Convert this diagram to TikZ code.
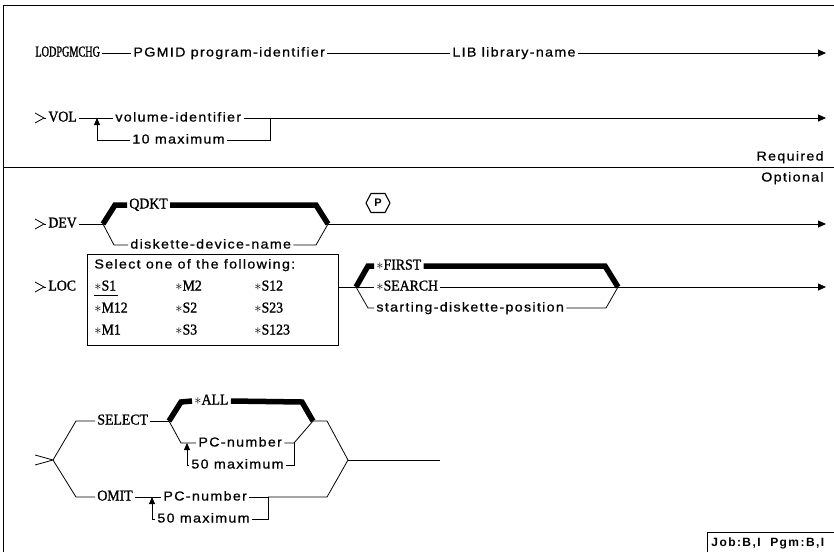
\documentclass[tikz,border=0pt]{standalone}
\usepackage{fontspec}
\setmainfont{Liberation Serif}
\newfontfamily\kwfont[FakeStretch=0.92,FakeBold=1.2]{Liberation Serif}
\newfontfamily\lodfont[FakeStretch=0.68,FakeBold=1.2]{Liberation Serif}
\newfontfamily\prfont[LetterSpace=10,FakeStretch=1.1,FakeBold=0.8]{Liberation Sans}
\newfontfamily\bsfont[LetterSpace=12]{Liberation Sans}
\usetikzlibrary{arrows.meta}
\begin{document}
\begin{tikzpicture}[x=1pt,y=-1pt,line width=0.8pt,
  kw/.style={font=\kwfont\fontsize{15}{17}\selectfont, anchor=west, inner sep=2pt, text height=10pt, text depth=3pt},
  prm/.style={font=\prfont\fontsize{13}{15}\selectfont, anchor=west, inner sep=2pt, text height=10pt, text depth=3pt},
  heavy/.style={line width=5.5pt, line join=miter},
  arr/.style={-{Triangle[length=8pt,width=7pt]}},
  uparr/.style={-{Triangle[length=7pt,width=6pt]}}]
\useasboundingbox (0,0) rectangle (834,552);
% frame
\draw (834,5) -- (3,5) -- (3,552);
\draw (3,167) -- (834,167);
\node[prm,anchor=east] (req) at (826,157) {Required};
\node[prm,anchor=east] (opt) at (826,178) {Optional};

% ---- row 1
\node[kw,font=\lodfont\fontsize{15}{17}\selectfont] (lod) at (33,53) {LODPGMCHG};
\node[prm] (pgm) at (131,53) {PGMID program-identifier};
\node[prm] (lib) at (450,53) {LIB library-name};
\coordinate (e1) at (826,53);
\draw (lod) -- (pgm);
\draw (pgm) -- (lib);
\draw[arr] (lib) -- (e1);

% ---- row 2 VOL
\coordinate (sv) at (44,118);
\draw (35,113) -- (sv) -- (35,123);
\node[kw] (vol) at (46,118) {VOL};
\draw (sv) -- (vol);
\coordinate (va) at (97,118);
\coordinate (vb) at (97,140);
\node[prm] (vid) at (113,118) {volume-identifier};
\node[prm] (vmax) at (130,140) {10 maximum};
\coordinate (vc) at (270,118);
\coordinate (vd) at (270,140);
\coordinate (e2) at (826,118);
\draw (vol) -- (vid);
\draw[uparr] (vb) -- (va);
\draw (vb) -- (vmax);
\draw (vmax) -- (vd) -- (vc);
\draw (vid) -- (vc);
\draw[arr] (vc) -- (e2);

% ---- DEV
\coordinate (sd) at (44,224);
\draw (35,219) -- (sd) -- (35,229);
\node[kw] (dev) at (46,224) {DEV};
\draw (sd) -- (dev);
\coordinate (d0) at (103,224);
\coordinate (d1) at (328,224);
\node[kw] (qdkt) at (127,205) {QDKT};
\node[prm] (ddn) at (128,245) {diskette-device-name};
\draw (dev) -- (d0);
\draw[heavy] (d0) -- (115,205) -- (qdkt.west);
\draw[heavy] (qdkt.east) -- (316,205) -- (d1);
\draw (d0) -- (114,245) -- (ddn.west);
\draw (ddn.east) -- (316,245) -- (d1);
\coordinate (e3) at (826,224);
\draw[arr] (d1) -- (e3);
\node[font=\bsfont\bfseries\fontsize{11}{12}\selectfont, inner sep=0pt] (p) at (378,203) {P};
\draw[line width=1.1pt] ([xshift=-12pt]p.center) -- ++(5,-9.5) -- ++(14,0) -- ++(5,9.5) -- ++(-5,9.5) -- ++(-14,0) -- cycle;

% ---- LOC
\coordinate (sl) at (44,287);
\draw (35,282) -- (sl) -- (35,292);
\node[kw] (loc) at (46,287) {LOC};
\draw (sl) -- (loc);
\node[draw, minimum width=251pt, minimum height=91pt, inner sep=0pt] (selbox) at (212.5,299.5) {};
\node[prm] (selt) at (92,265) {Select one of the following:};
\node[kw] (bS1) at (92,287) {$\ast$S1};
\node[kw] (bM2) at (173,287) {$\ast$M2};
\node[kw] (bS12) at (252,287) {$\ast$S12};
\node[kw] (bM12) at (92,309) {$\ast$M12};
\node[kw] (bS2) at (173,309) {$\ast$S2};
\node[kw] (bS23) at (252,309) {$\ast$S23};
\node[kw] (bM1) at (92,331) {$\ast$M1};
\node[kw] (bS3) at (173,331) {$\ast$S3};
\node[kw] (bS123) at (252,331) {$\ast$S123};
\draw ([xshift=2pt,yshift=1pt]bS1.south west) -- ([xshift=-1pt,yshift=1pt]bS1.south east);
\coordinate (l0) at (356,287);
\coordinate (l1) at (618,287);
\draw (selbox.east |- l0) -- (l0);
\node[kw] (first) at (374,266) {$\ast$FIRST};
\node[kw] (search) at (374,287) {$\ast$SEARCH};
\node[prm] (sdp) at (374,308) {starting-diskette-position};
\draw[heavy] (l0) -- (368,266) -- (first.west);
\draw[heavy] (first.east) -- (605,266) -- (l1);
\draw (l0) -- (search.west);
\draw (search.east) -- (l1);
\draw (l0) -- (368,308) -- (sdp.west);
\draw (sdp.east) -- (606,308) -- (l1);
\coordinate (e4) at (826,287);
\draw[arr] (l1) -- (e4);

% ---- SELECT / OMIT
\coordinate (f0) at (53,460);
\draw (35,455) -- (f0) -- (35,465);
\node[kw] (sel) at (95,421) {SELECT};
\node[kw] (omit) at (95,497) {OMIT};
\draw (f0) -- (76,421) -- (sel.west);
\draw (f0) -- (76,497) -- (omit.west);
\coordinate (s0) at (169,421);
\coordinate (s1) at (313,421);
\draw (sel) -- (s0);
\node[kw] (all) at (192,401) {$\ast$ALL};
\draw[heavy] (s0) -- (181,402) -- (all.west);
\draw[heavy] (all.east) -- (302,402) -- (s1);
\node[prm] (pc1) at (196,443) {PC-number};
\node[prm] (mx1) at (189,465) {50 maximum};
\coordinate (pa) at (187,443);
\coordinate (pb) at (187,465);
\draw (s0) -- (181,443) -- (pc1.west);
\draw[uparr] (pb) -- (pa);
\draw (pb) -- (mx1.west);
\draw (pc1.east) -- (294,443) -- (s1);
\draw (294,443) -- (294,465) -- (mx1.east);
\node[prm] (pc2) at (161,497) {PC-number};
\node[prm] (mx2) at (155,519) {50 maximum};
\coordinate (qa) at (152,497);
\coordinate (qb) at (152,519);
\draw (omit) -- (pc2);
\draw[uparr] (qb) -- (qa);
\draw (qb) -- (mx2.west);
\coordinate (oc) at (268,497);
\draw (pc2.east) -- (oc) -- (268,519) -- (mx2.east);
\coordinate (m0) at (348,460);
\coordinate (m1) at (440,460);
\draw (s1) -- (327,421) -- (m0);
\draw (oc) -- (327,497) -- (m0);
\draw (m0) -- (m1);

% ---- Job box
\draw (707,552) -- (707,532) -- (834,532);
\node[font=\bsfont\bfseries\fontsize{12}{14}\selectfont, anchor=west, inner sep=0pt] (job) at (711,543) {Job:B,I\ \ Pgm:B,I};
\end{tikzpicture}
\end{document}
